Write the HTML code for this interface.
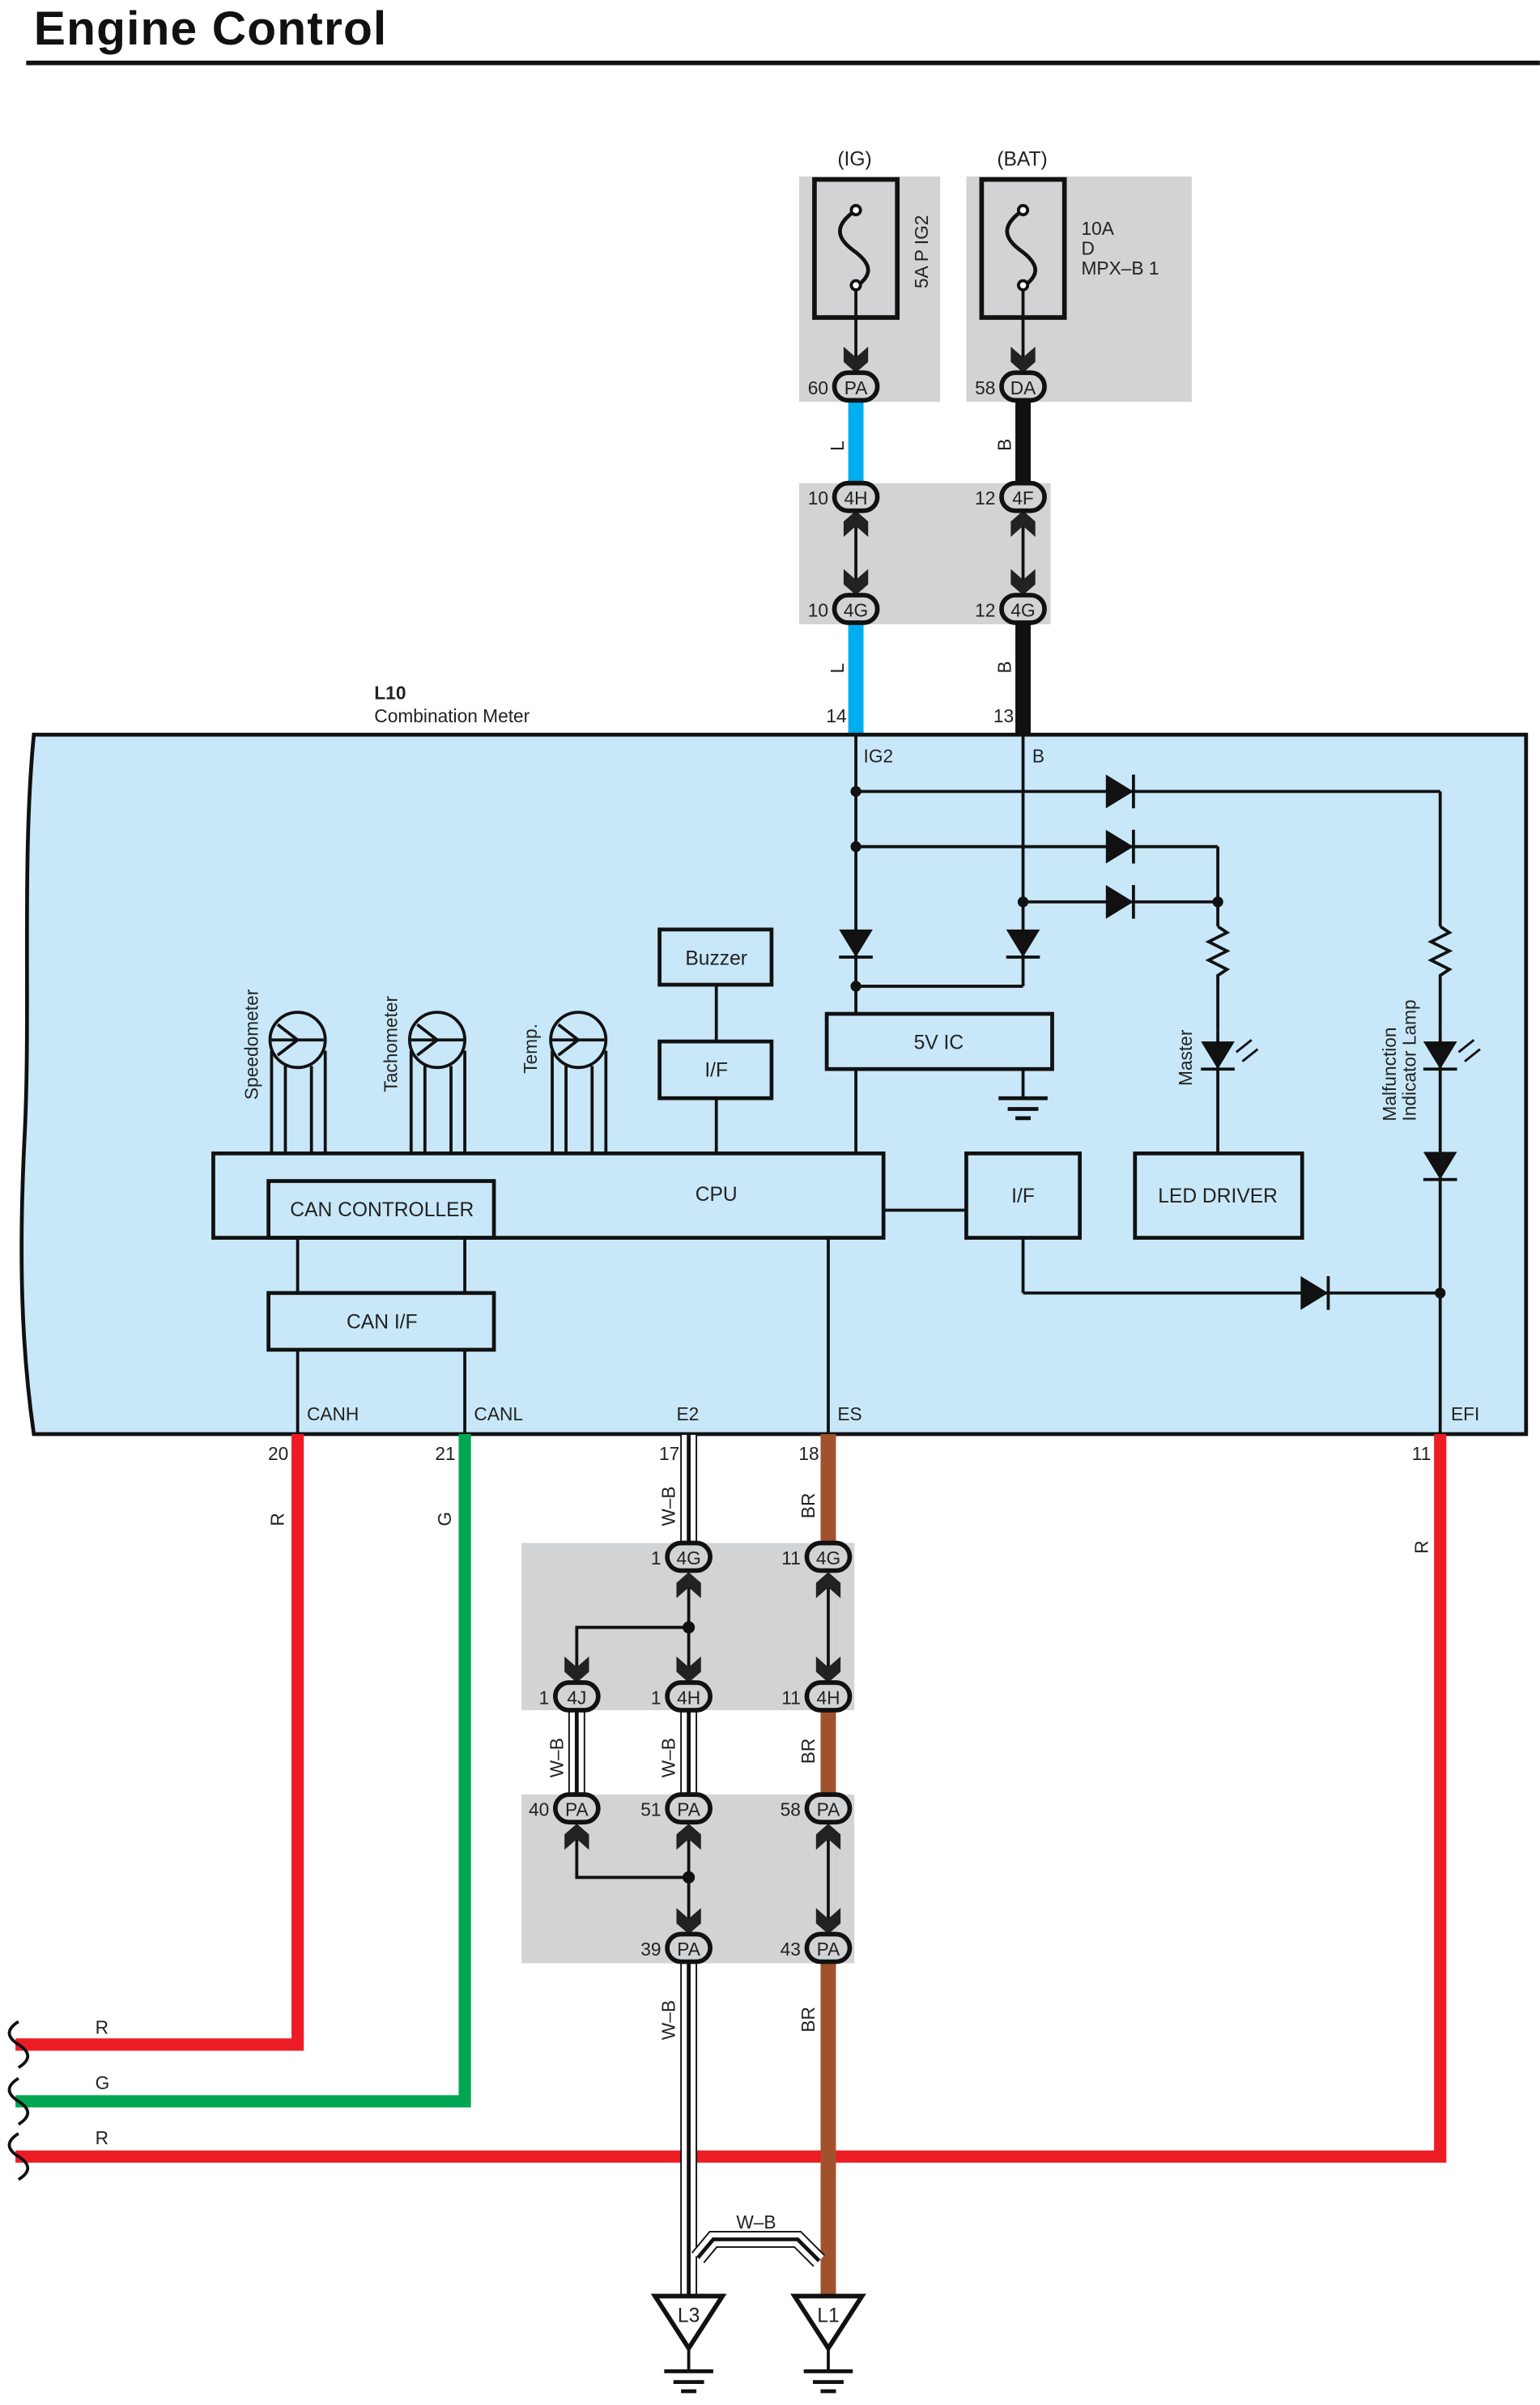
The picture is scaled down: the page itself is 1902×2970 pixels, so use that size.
<!DOCTYPE html>
<html><head><meta charset="utf-8"><style>
html,body{margin:0;padding:0;background:#fff}
svg{display:block}
text{font-family:"Liberation Sans",sans-serif;fill:#222}
</style></head><body>
<svg width="1902" height="2970" viewBox="0 0 1004 1568" xmlns="http://www.w3.org/2000/svg">
<defs>
<path id="ad" d="M-8,-15 L0,-8 L8,-15 L8,-5 L0,2 L-8,-5 Z" fill="#222"/>
<path id="au" d="M-8,15 L0,8 L8,15 L8,5 L0,-2 L-8,5 Z" fill="#222"/>
<g id="dd"><path d="M-11,-9 L11,-9 L0,9 Z" fill="#111"/><line x1="-11" y1="9" x2="11" y2="9" stroke="#111" stroke-width="2"/></g>
<g id="dr"><path d="M-9,-11 L-9,11 L9,0 Z" fill="#111"/><line x1="9" y1="-11" x2="9" y2="11" stroke="#111" stroke-width="2"/></g>
<g id="gnd" stroke="#111" stroke-width="2.5"><line x1="-16" y1="0" x2="16" y2="0"/><line x1="-10" y1="7" x2="10" y2="7"/><line x1="-5" y1="13" x2="5" y2="13"/></g>
</defs>

<text x="22" y="29" font-size="31" font-weight="bold" letter-spacing="0.6" style="fill:#111">Engine Control</text>
<line x1="17" y1="41" x2="1004" y2="41" stroke="#111" stroke-width="3"/>

<!-- top gray boxes -->
<rect x="521" y="115" width="92" height="147" fill="#d1d3d4"/>
<rect x="630" y="115" width="147" height="147" fill="#d1d3d4"/>
<rect x="521" y="315" width="164" height="92" fill="#d1d3d4"/>
<text x="546" y="108" font-size="13">(IG)</text>
<text x="650" y="108" font-size="13">(BAT)</text>
<rect x="531" y="117" width="54" height="90" fill="none" stroke="#111" stroke-width="3"/>
<rect x="640" y="117" width="54" height="90" fill="none" stroke="#111" stroke-width="3"/>
<path d="M558,137 C545,146 544,154 556,163 C570,173 568,180 558,187" fill="none" stroke="#111" stroke-width="2.5"/>
<path d="M667,137 C654,146 653,154 665,163 C679,173 677,180 667,187" fill="none" stroke="#111" stroke-width="2.5"/>
<circle cx="558" cy="137" r="3" fill="#fff" stroke="#111" stroke-width="2"/><circle cx="558" cy="186" r="3" fill="#fff" stroke="#111" stroke-width="2"/>
<circle cx="667" cy="137" r="3" fill="#fff" stroke="#111" stroke-width="2"/><circle cx="667" cy="186" r="3" fill="#fff" stroke="#111" stroke-width="2"/>
<line x1="558" y1="189" x2="558" y2="238" stroke="#111" stroke-width="2"/>
<line x1="667" y1="189" x2="667" y2="238" stroke="#111" stroke-width="2"/>
<use href="#ad" x="558" y="241"/><use href="#ad" x="667" y="241"/>
<text transform="translate(605,188) rotate(-90)" font-size="12">5A P IG2</text>
<text x="705" y="153" font-size="12">10A</text><text x="705" y="166" font-size="12">D</text><text x="705" y="179" font-size="12">MPX–B 1</text>

<!-- top wires -->
<rect x="553" y="260" width="10" height="55" fill="#00aeef"/>
<rect x="662" y="260" width="10" height="55" fill="#111"/>
<rect x="553" y="407" width="10" height="71" fill="#00aeef"/>
<rect x="662" y="407" width="10" height="71" fill="#111"/>
<text transform="translate(550,294) rotate(-90)" font-size="12">L</text>
<text transform="translate(659,294) rotate(-90)" font-size="12">B</text>
<text transform="translate(550,439) rotate(-90)" font-size="12">L</text>
<text transform="translate(659,439) rotate(-90)" font-size="12">B</text>
<line x1="558" y1="335" x2="558" y2="386" stroke="#111" stroke-width="2"/>
<line x1="667" y1="335" x2="667" y2="386" stroke="#111" stroke-width="2"/>
<use href="#au" x="558" y="335"/><use href="#au" x="667" y="335"/>
<use href="#ad" x="558" y="386"/><use href="#ad" x="667" y="386"/>

<g font-size="12">
<rect x="544" y="243" width="28" height="18" rx="9" fill="#d1d3d4" stroke="#111" stroke-width="3"/><text x="558" y="257" text-anchor="middle">PA</text>
<rect x="653" y="243" width="28" height="18" rx="9" fill="#d1d3d4" stroke="#111" stroke-width="3"/><text x="667" y="257" text-anchor="middle">DA</text>
<rect x="544" y="315" width="28" height="18" rx="9" fill="#d1d3d4" stroke="#111" stroke-width="3"/><text x="558" y="329" text-anchor="middle">4H</text>
<rect x="653" y="315" width="28" height="18" rx="9" fill="#d1d3d4" stroke="#111" stroke-width="3"/><text x="667" y="329" text-anchor="middle">4F</text>
<rect x="544" y="388" width="28" height="18" rx="9" fill="#d1d3d4" stroke="#111" stroke-width="3"/><text x="558" y="402" text-anchor="middle">4G</text>
<rect x="653" y="388" width="28" height="18" rx="9" fill="#d1d3d4" stroke="#111" stroke-width="3"/><text x="667" y="402" text-anchor="middle">4G</text>
<text x="540" y="257" text-anchor="end">60</text><text x="649" y="257" text-anchor="end">58</text>
<text x="540" y="329" text-anchor="end">10</text><text x="649" y="329" text-anchor="end">12</text>
<text x="540" y="402" text-anchor="end">10</text><text x="649" y="402" text-anchor="end">12</text>
<text x="552" y="471" text-anchor="end">14</text><text x="661" y="471" text-anchor="end">13</text>
</g>
<text x="244" y="456" font-size="12" font-weight="bold">L10</text>
<text x="244" y="471" font-size="12">Combination Meter</text>

<!-- meter box -->
<path d="M22,479 L995,479 L995,935 L22,935 C14,880 12,820 16,740 C20,660 14,560 22,479 Z" fill="#c8e8f9" stroke="#111" stroke-width="2.5"/>
<g font-size="12">
<text x="563" y="497">IG2</text><text x="673" y="497">B</text>
<text x="200" y="926">CANH</text><text x="309" y="926">CANL</text><text x="441" y="926">E2</text><text x="546" y="926">ES</text><text x="946" y="926">EFI</text>
</g>
<g stroke="#111" stroke-width="2" fill="none">
<line x1="558" y1="479" x2="558" y2="661"/>
<line x1="667" y1="479" x2="667" y2="625"/>
<line x1="558" y1="516" x2="939" y2="516"/>
<line x1="939" y1="516" x2="939" y2="604"/>
<path d="M939,604 l6,4 l-12,6 l12,6 l-12,6 l12,6 l-6,4 L939,672"/>
<line x1="939" y1="672" x2="939" y2="935"/>
<line x1="558" y1="552" x2="794" y2="552"/>
<line x1="667" y1="588" x2="794" y2="588"/>
<line x1="794" y1="552" x2="794" y2="604"/>
<path d="M794,604 l6,4 l-12,6 l12,6 l-12,6 l12,6 l-6,4 L794,672"/>
<line x1="794" y1="672" x2="794" y2="752"/>
<line x1="558" y1="643" x2="667" y2="643"/>
<line x1="667" y1="625" x2="667" y2="643"/>
<line x1="667" y1="697" x2="667" y2="715"/>
<line x1="558" y1="697" x2="558" y2="752"/>
<line x1="467" y1="642" x2="467" y2="679"/>
<line x1="467" y1="716" x2="467" y2="752"/>
<line x1="576" y1="789" x2="630" y2="789"/>
<line x1="667" y1="807" x2="667" y2="843"/>
<line x1="667" y1="843" x2="939" y2="843"/>
<line x1="540" y1="807" x2="540" y2="935"/>
<line x1="194" y1="807" x2="194" y2="843"/>
<line x1="194" y1="880" x2="194" y2="935"/>
<line x1="303" y1="807" x2="303" y2="843"/>
<line x1="303" y1="880" x2="303" y2="935"/>
</g>
<g fill="#111"><circle cx="558" cy="516" r="3.5"/><circle cx="558" cy="552" r="3.5"/><circle cx="667" cy="588" r="3.5"/><circle cx="794" cy="588" r="3.5"/><circle cx="558" cy="643" r="3.5"/><circle cx="939" cy="843" r="3.5"/></g>
<use href="#dr" x="730" y="516"/><use href="#dr" x="730" y="552"/><use href="#dr" x="730" y="588"/>
<use href="#dd" x="558" y="615"/><use href="#dd" x="667" y="615"/>
<use href="#dd" x="794" y="688"/><use href="#dd" x="939" y="688"/><use href="#dd" x="939" y="760"/>
<use href="#dr" x="857" y="843"/>
<g stroke="#111" stroke-width="1.5"><path d="M806,686 l10,-8 M810,692 l10,-8 M951,686 l10,-8 M955,692 l10,-8"/></g>
<use href="#gnd" x="667" y="716"/>

<g fill="none" stroke="#111" stroke-width="2.5">
<rect x="430" y="606" width="73" height="36"/>
<rect x="430" y="679" width="73" height="37"/>
<rect x="539" y="661" width="147" height="36"/>
<rect x="139" y="752" width="437" height="55"/>
<rect x="175" y="770" width="147" height="37"/>
<rect x="175" y="843" width="147" height="37"/>
<rect x="630" y="752" width="74" height="55"/>
<rect x="740" y="752" width="109" height="55"/>
</g>
<g font-size="13" text-anchor="middle">
<text x="467" y="629">Buzzer</text><text x="467" y="702">I/F</text><text x="612" y="684">5V IC</text>
<text x="467" y="783">CPU</text><text x="249" y="793">CAN CONTROLLER</text><text x="249" y="866">CAN I/F</text>
<text x="667" y="784">I/F</text><text x="794" y="784">LED DRIVER</text>
</g>
<!-- gauges -->
<g stroke="#111" stroke-width="2" fill="none">
<circle cx="194" cy="678" r="18"/><circle cx="285" cy="678" r="18"/><circle cx="377" cy="678" r="18"/>
<path d="M177,678 L211,678 M194,678 L181,668 M194,678 L181,688"/>
<path d="M268,678 L302,678 M285,678 L272,668 M285,678 L272,688"/>
<path d="M360,678 L394,678 M377,678 L364,668 M377,678 L364,688"/>
<path d="M177,685 V752 M186,695 V752 M203,695 V752 M212,685 V752"/>
<path d="M268,685 V752 M277,695 V752 M294,695 V752 M303,685 V752"/>
<path d="M360,685 V752 M369,695 V752 M386,695 V752 M395,685 V752"/>
</g>
<g font-size="12">
<text transform="translate(168,717) rotate(-90)">Speedometer</text>
<text transform="translate(259,712) rotate(-90)">Tachometer</text>
<text transform="translate(350,700) rotate(-90)">Temp.</text>
<text transform="translate(777,708) rotate(-90)">Master</text>
<text transform="translate(910,731) rotate(-90)">Malfunction</text>
<text transform="translate(923,731) rotate(-90)">Indicator Lamp</text>
</g>

<!-- lower gray boxes -->
<rect x="340" y="1006" width="217" height="109" fill="#d1d3d4"/>
<rect x="340" y="1170" width="217" height="110" fill="#d1d3d4"/>

<!-- lower wires -->
<path d="M194,935 V1333 H10" fill="none" stroke="#ed1c24" stroke-width="8"/>
<path d="M303,935 V1370 H10" fill="none" stroke="#00a651" stroke-width="8"/>
<path d="M939,935 V1406 H10" fill="none" stroke="#ed1c24" stroke-width="8"/>
<g fill="none" stroke="#111" stroke-width="2">
<path d="M12,1318 c-8,5 -8,10 0,15 c8,5 8,10 0,15"/>
<path d="M12,1355 c-8,5 -8,10 0,15 c8,5 8,10 0,15"/>
<path d="M12,1391 c-8,5 -8,10 0,15 c8,5 8,10 0,15"/>
</g>
<g>
<rect x="444" y="935" width="10" height="72" fill="#fff" stroke="#111" stroke-width="1"/><line x1="449" y1="935" x2="449" y2="1007" stroke="#111" stroke-width="2.5"/>
<rect x="444" y="1115" width="10" height="56" fill="#fff" stroke="#111" stroke-width="1"/><line x1="449" y1="1115" x2="449" y2="1171" stroke="#111" stroke-width="2.5"/>
<rect x="371" y="1115" width="10" height="56" fill="#fff" stroke="#111" stroke-width="1"/><line x1="376" y1="1115" x2="376" y2="1171" stroke="#111" stroke-width="2.5"/>
<rect x="444" y="1279" width="10" height="218" fill="#fff" stroke="#111" stroke-width="1"/><line x1="449" y1="1279" x2="449" y2="1497" stroke="#111" stroke-width="2.5"/>
</g>
<rect x="535" y="935" width="10" height="562" fill="#a0522d"/>
<rect x="535" y="1006" width="10" height="109" fill="#d1d3d4"/>
<rect x="535" y="1170" width="10" height="110" fill="#d1d3d4"/>
<path d="M455,1472 L465,1460 L520,1460 L534,1474" fill="none" stroke="#111" stroke-width="11"/>
<path d="M455,1472 L465,1460 L520,1460 L534,1474" fill="none" stroke="#fff" stroke-width="9"/>
<path d="M455,1472 L465,1460 L520,1460 L534,1474" fill="none" stroke="#111" stroke-width="2.5"/>
<text x="480" y="1453" font-size="12">W–B</text>

<g stroke="#111" stroke-width="2" fill="none">
<line x1="449" y1="1026" x2="449" y2="1095"/>
<path d="M449,1061 H376 V1095"/>
<line x1="540" y1="1026" x2="540" y2="1095"/>
<line x1="449" y1="1190" x2="449" y2="1259"/>
<path d="M449,1224 H376 V1190"/>
<line x1="540" y1="1190" x2="540" y2="1259"/>
</g>
<g fill="#111"><circle cx="449" cy="1061" r="4"/><circle cx="449" cy="1224" r="4"/></g>
<use href="#au" x="449" y="1027"/><use href="#au" x="540" y="1027"/>
<use href="#ad" x="449" y="1095"/><use href="#ad" x="376" y="1095"/><use href="#ad" x="540" y="1095"/>
<use href="#au" x="449" y="1191"/><use href="#au" x="376" y="1191"/><use href="#au" x="540" y="1191"/>
<use href="#ad" x="449" y="1259"/><use href="#ad" x="540" y="1259"/>

<g font-size="12">
<rect x="435" y="1006" width="28" height="18" rx="9" fill="#d1d3d4" stroke="#111" stroke-width="3"/><text x="449" y="1020" text-anchor="middle">4G</text>
<rect x="526" y="1006" width="28" height="18" rx="9" fill="#d1d3d4" stroke="#111" stroke-width="3"/><text x="540" y="1020" text-anchor="middle">4G</text>
<rect x="362" y="1097" width="28" height="18" rx="9" fill="#d1d3d4" stroke="#111" stroke-width="3"/><text x="376" y="1111" text-anchor="middle">4J</text>
<rect x="435" y="1097" width="28" height="18" rx="9" fill="#d1d3d4" stroke="#111" stroke-width="3"/><text x="449" y="1111" text-anchor="middle">4H</text>
<rect x="526" y="1097" width="28" height="18" rx="9" fill="#d1d3d4" stroke="#111" stroke-width="3"/><text x="540" y="1111" text-anchor="middle">4H</text>
<rect x="362" y="1170" width="28" height="18" rx="9" fill="#d1d3d4" stroke="#111" stroke-width="3"/><text x="376" y="1184" text-anchor="middle">PA</text>
<rect x="435" y="1170" width="28" height="18" rx="9" fill="#d1d3d4" stroke="#111" stroke-width="3"/><text x="449" y="1184" text-anchor="middle">PA</text>
<rect x="526" y="1170" width="28" height="18" rx="9" fill="#d1d3d4" stroke="#111" stroke-width="3"/><text x="540" y="1184" text-anchor="middle">PA</text>
<rect x="435" y="1261" width="28" height="18" rx="9" fill="#d1d3d4" stroke="#111" stroke-width="3"/><text x="449" y="1275" text-anchor="middle">PA</text>
<rect x="526" y="1261" width="28" height="18" rx="9" fill="#d1d3d4" stroke="#111" stroke-width="3"/><text x="540" y="1275" text-anchor="middle">PA</text>
<text x="431" y="1020" text-anchor="end">1</text><text x="522" y="1020" text-anchor="end">11</text>
<text x="358" y="1111" text-anchor="end">1</text><text x="431" y="1111" text-anchor="end">1</text><text x="522" y="1111" text-anchor="end">11</text>
<text x="358" y="1184" text-anchor="end">40</text><text x="431" y="1184" text-anchor="end">51</text><text x="522" y="1184" text-anchor="end">58</text>
<text x="431" y="1275" text-anchor="end">39</text><text x="522" y="1275" text-anchor="end">43</text>
<text x="188" y="952" text-anchor="end">20</text><text x="297" y="952" text-anchor="end">21</text>
<text x="443" y="952" text-anchor="end">17</text><text x="534" y="952" text-anchor="end">18</text><text x="933" y="952" text-anchor="end">11</text>
<text transform="translate(185,995) rotate(-90)">R</text>
<text transform="translate(294,995) rotate(-90)">G</text>
<text transform="translate(440,995) rotate(-90)">W–B</text>
<text transform="translate(531,990) rotate(-90)">BR</text>
<text transform="translate(931,1013) rotate(-90)">R</text>
<text transform="translate(367,1159) rotate(-90)">W–B</text>
<text transform="translate(440,1159) rotate(-90)">W–B</text>
<text transform="translate(531,1150) rotate(-90)">BR</text>
<text transform="translate(440,1330) rotate(-90)">W–B</text>
<text transform="translate(531,1325) rotate(-90)">BR</text>
<text x="62" y="1326">R</text><text x="62" y="1362">G</text><text x="62" y="1398">R</text>
</g>

<g stroke="#111" stroke-width="3" fill="#fff">
<path d="M427,1497 L471,1497 L449,1531 Z"/>
<path d="M518,1497 L562,1497 L540,1531 Z"/>
</g>
<line x1="449" y1="1531" x2="449" y2="1546" stroke="#111" stroke-width="2"/>
<line x1="540" y1="1531" x2="540" y2="1546" stroke="#111" stroke-width="2"/>
<use href="#gnd" x="449" y="1546"/><use href="#gnd" x="540" y="1546"/>
<text x="449" y="1514" font-size="13" text-anchor="middle">L3</text>
<text x="540" y="1514" font-size="13" text-anchor="middle">L1</text>
</svg>
</body></html>
